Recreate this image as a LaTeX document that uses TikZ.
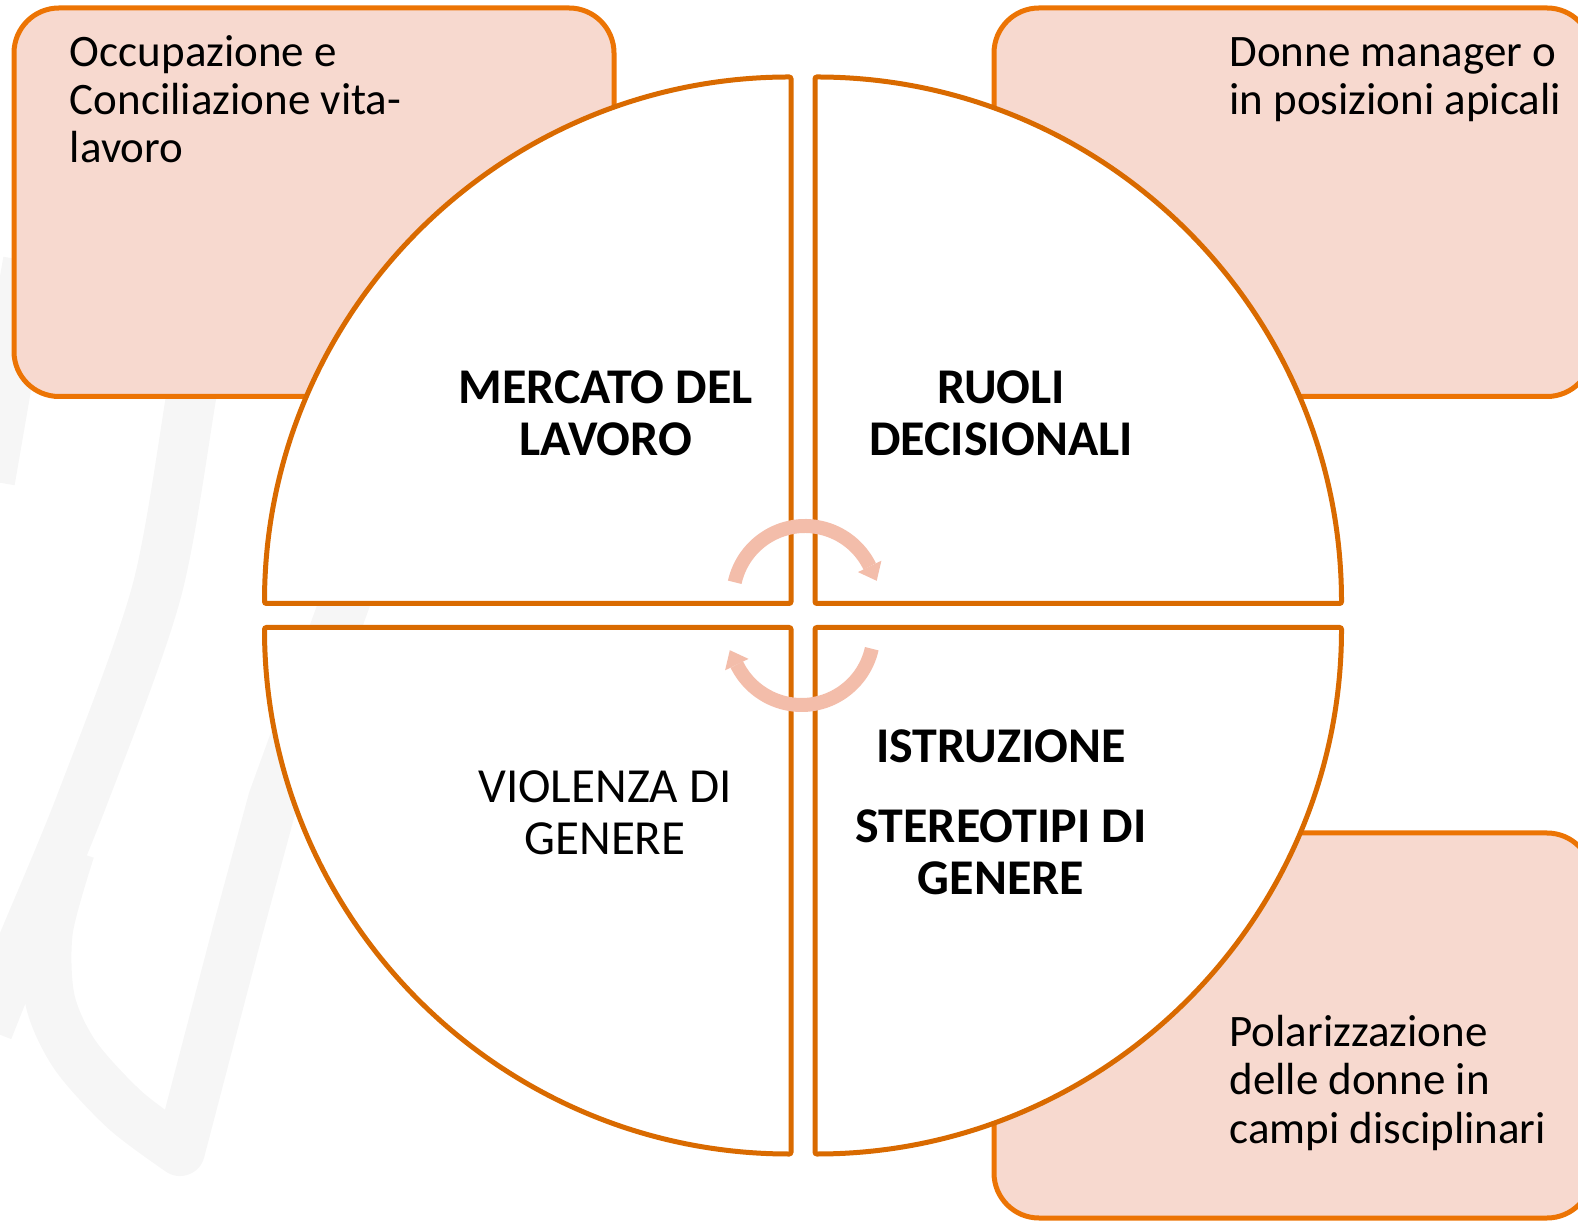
\documentclass[tikz,border=0pt]{standalone}
\usepackage{fontspec}
\setmainfont{Carlito}
\definecolor{boxfill}{RGB}{247,217,207}
\definecolor{boxline}{RGB}{236,116,4}
\definecolor{circline}{RGB}{217,106,0}
\definecolor{arrowpink}{RGB}{243,189,170}
\definecolor{wmark}{RGB}{246,246,246}
\begin{document}
\begin{tikzpicture}[x=0.5pt,y=0.5pt,
  sidebox/.style={draw=boxline, fill=boxfill, line width=2.5pt, rounded corners=22.5pt},
  quad/.style={draw=circline, fill=white, line width=2.5pt, rounded corners=1pt},
  sidetext/.style={font=\fontsize{22.5}{24.15}\selectfont, align=left, anchor=base west, inner sep=0pt},
  centertext/.style={font=\fontsize{24.5}{26}\selectfont, align=center, anchor=base, inner sep=0pt},
  boldtext/.style={centertext, font=\fontsize{25}{26}\selectfont\bfseries},
  wm/.style={draw=wmark, line width=25pt, line join=round},
  cyc/.style={draw=arrowpink, line width=7pt},
  cychead/.style={fill=arrowpink}]
\useasboundingbox (0,0) rectangle (1578,1221);
\clip (0,0) rectangle (1578,1221);
% faint watermark
\draw[wm] plot[smooth] coordinates {(212,900) (195,846) (157,631) (82,421) (20,271) (-12,191)};
\draw[wm] plot[smooth] coordinates {(70,371) (48,291) (50,221) (75,166) (125,111) (180,70)} -- (237,288) -- (273,421) -- (343,614) -- (420,831);
\draw[wm] (28,960) -- (-10,740);
% side boxes
\draw[sidebox] (14,824.5) rectangle (614,1213);
\draw[sidebox] (994,824.5) rectangle (1592,1213);
\draw[sidebox] (994,3) rectangle (1592,388);
% quadrants
\draw[quad] (791,617.5) -- (264.5,617.5) arc (180:90:263.25pt) -- cycle;
\draw[quad] (815,617.5) -- (815,1144) arc (90:0:263.25pt) -- cycle;
\draw[quad] (791,593.5) -- (791,67) arc (270:180:263.25pt) -- cycle;
\draw[quad] (815,593.5) -- (1341.5,593.5) arc (0:-90:263.25pt) -- cycle;
% cycle arrows
\coordinate (ca) at (805,623);
\coordinate (cb) at (801.5,588);
\draw[cyc] ([shift={(167.4:36pt)}]ca) arc (167.4:26:36pt);
\fill[cychead] (881.4,660.3) -- (858.0,648.9) -- (876.7,640.2) -- cycle;
\draw[cyc] ([shift={(-12.6:36pt)}]cb) arc (-12.6:-154:36pt);
\fill[cychead] (725.1,550.7) -- (748.5,562.1) -- (729.8,570.8) -- cycle;
% texts (anchor = baseline of the last line)
\node[sidetext] (occ) at (69.5,1058) {Occupazione e\\Conciliazione vita-\\lavoro};
\node[sidetext] (don) at (1229,1106) {Donne manager o\\in posizioni apicali};
\node[sidetext] (pol) at (1229,78) {Polarizzazione\\delle donne in\\campi disciplinari};
\node[boldtext] (mer) at (605.5,765) {MERCATO DEL\\LAVORO};
\node[boldtext] (ruo) at (1001,765) {RUOLI\\DECISIONALI};
\node[centertext] (vio) at (605,366) {VIOLENZA DI\\GENERE};
\node[boldtext] (ist) at (1001,458) {ISTRUZIONE};
\node[boldtext] (ste) at (1001,327) {STEREOTIPI DI\\GENERE};
\end{tikzpicture}
\end{document}
